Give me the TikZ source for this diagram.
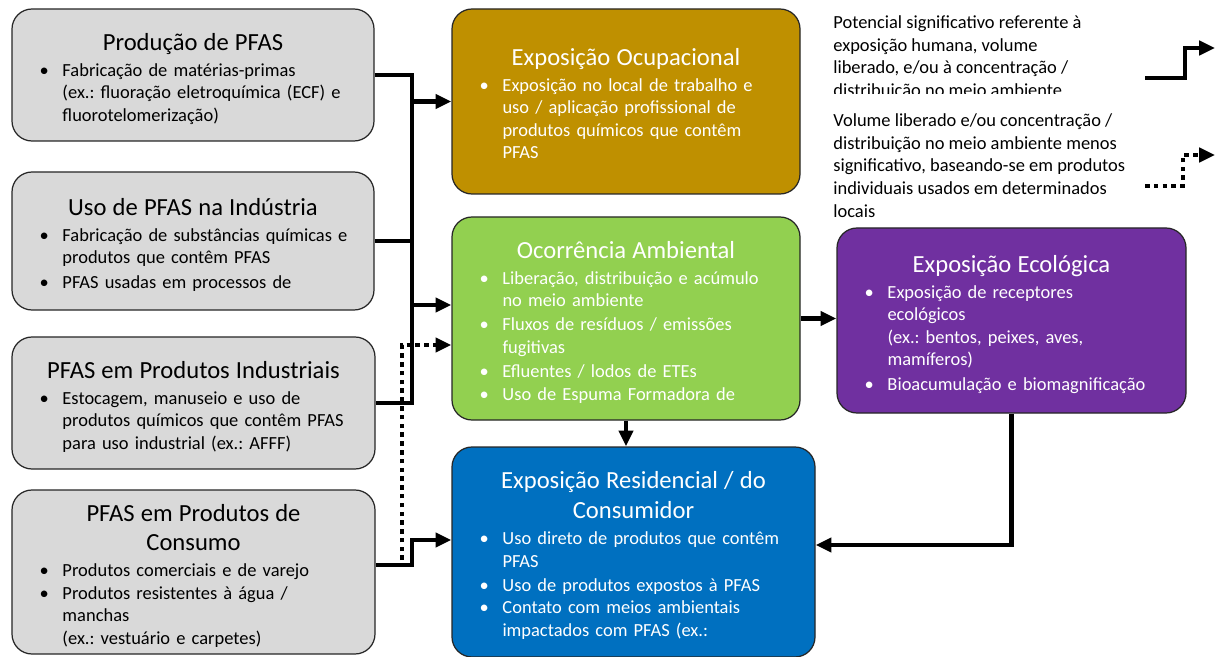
\documentclass[tikz,border=0pt]{standalone}
\usepackage{fontspec}
\setmainfont{Carlito}
\usetikzlibrary{arrows.meta}
\frenchspacing
\definecolor{pfasGrey}{HTML}{D9D9D9}
\definecolor{ocupGold}{HTML}{BF9000}
\definecolor{ambGreen}{HTML}{92D050}
\definecolor{resBlue}{HTML}{0070C0}
\definecolor{ecoPurple}{HTML}{7030A0}
\newcommand{\ttl}[1]{{\centering\fontsize{14}{17}\selectfont\rule{0pt}{16pt}#1\par}\vspace{2pt}}
\newcommand{\bitem}[1]{\par\noindent\hbox to 0.56cm{\hskip0.1cm\textbullet\hss}\begin{tabular}[t]{@{}l@{}}#1\end{tabular}\par}
\begin{document}
\begin{tikzpicture}[>={Triangle[length=9pt,width=8pt]},
    box/.style={draw=black!85, line width=0.7pt, rounded corners=0.4cm, align=left,
      inner xsep=0.45cm, inner ysep=0pt, font=\fontsize{10.5}{12.8}\selectfont},
    flow/.style={line width=2.3pt},
    dots/.style={line width=2.3pt, dash pattern=on 2.6pt off 2.4pt},
    legend/.style={align=left, inner sep=0pt, font=\fontsize{10.5}{13}\selectfont}]
        \useasboundingbox (0,0) rectangle (24.3,-13.14);

        \node[box,fill=pfasGrey,text width=6.34cm,minimum height=2.64cm] (prod) at (3.86,-1.50)
            {\ttl{Produção de PFAS}\bitem{Fabricação de matérias-primas\\(ex.: fluoração eletroquímica (ECF) e\\fluorotelomerização)}};
        \node[box,fill=pfasGrey,text width=6.34cm,minimum height=2.76cm] (uso) at (3.86,-4.82)
            {\ttl{Uso de PFAS na Indústria}\bitem{Fabricação de substâncias químicas e\\produtos que contêm PFAS}\bitem{PFAS usadas em processos de}};
        \node[box,fill=pfasGrey,text width=6.36cm,minimum height=2.64cm] (ind) at (3.87,-8.06)
            {\ttl{PFAS em Produtos Industriais}\bitem{Estocagem, manuseio e uso de\\produtos químicos que contêm PFAS\\para uso industrial (ex.: AFFF)}};
        \node[box,fill=pfasGrey,text width=6.36cm,minimum height=3.28cm] (cons) at (3.87,-11.44)
            {\ttl{PFAS em Produtos de\\Consumo}\bitem{Produtos comerciais e de varejo}\bitem{Produtos resistentes à água /\\manchas\\(ex.: vestuário e carpetes)}};

        \node[box,fill=ocupGold,text=white,text width=6.06cm,minimum height=3.70cm] (ocup) at (12.52,-2.03)
            {\ttl{Exposição Ocupacional}\bitem{Exposição no local de trabalho e\\uso / aplicação profissional de\\produtos químicos que contêm\\PFAS}};
        \node[box,fill=ambGreen,text=white,text width=6.06cm,minimum height=4.06cm] (amb) at (12.52,-6.37)
            {\ttl{Ocorrência Ambiental}\bitem{Liberação, distribuição e acúmulo\\no meio ambiente}\bitem{Fluxos de resíduos / emissões\\fugitivas}\bitem{Efluentes / lodos de ETEs}\bitem{Uso de Espuma Formadora de}};
        \node[box,fill=resBlue,text=white,text width=6.36cm,minimum height=4.20cm] (res) at (12.67,-11.04)
            {\ttl{Exposição Residencial / do\\Consumidor}\bitem{Uso direto de produtos que contêm\\PFAS}\bitem{Uso de produtos expostos à PFAS}\bitem{Contato com meios ambientais\\impactados com PFAS (ex.:}};
        \node[box,fill=ecoPurple,text=white,text width=6.08cm,minimum height=3.70cm] (eco) at (20.23,-6.41)
            {\ttl{Exposição Ecológica}\bitem{Exposição de receptores\\ecológicos\\(ex.: bentos, peixes, aves,\\mamíferos)}\bitem{Bioacumulação e biomagnificação}};

        \coordinate (bus) at (8.24,0);
        \coordinate (dotFoot) at (8.04,-11.2);
        \coordinate (ambIn) at ([yshift=0.27cm]amb.west);
        \coordinate (ambDot) at ([yshift=-0.53cm]amb.west);
        \coordinate (resIn) at ([yshift=0.24cm]res.west);
        \coordinate (consOut) at ([yshift=0.14cm]cons.east);

        \draw[flow] (prod.east) -| (bus |- ind.east) -- (ind.east);
        \draw[flow] (uso.east) -- (uso.east -| bus);
        \draw[flow,->] (bus |- ocup.west) -- (ocup.west);
        \draw[flow,->] (bus |- ambIn) -- (ambIn);
        \draw[flow,->] (consOut) -| (bus |- resIn) -- (resIn);
        \draw[dots,->] (dotFoot) |- (ambDot);
        \draw[flow,->] (amb.east) -- (amb.east -| eco.west);
        \draw[flow,->] (amb.south) -- (amb.south |- res.north);
        \draw[flow,->] (eco.south) |- ([yshift=0.14cm]res.east);

        \begin{scope}
            \clip (16.5,0) rectangle (22.8,-1.88);
            \node[legend,anchor=north west] (legSolid) at (16.66,-0.30)
                {Potencial significativo referente à\\exposição humana, volume\\liberado, e/ou à concentração /\\distribuição no meio ambiente};
        \end{scope}
        \node[legend,anchor=north west] (legDot) at (16.66,-2.26)
            {Volume liberado e/ou concentração /\\distribuição no meio ambiente menos\\significativo, baseando-se em produtos\\individuais usados em determinados\\locais};

        \coordinate (solidTail) at (22.9,-1.56);
        \coordinate (solidTip) at (24.3,-0.96);
        \coordinate (dotTail) at (22.9,-3.72);
        \coordinate (dotTip) at (24.3,-3.10);
        \draw[flow,->] (solidTail) -- ++(0.8,0) |- (solidTip);
        \draw[dots,->] (dotTail) -- ++(0.76,0) |- (dotTip);
    \end{tikzpicture}
\end{document}
